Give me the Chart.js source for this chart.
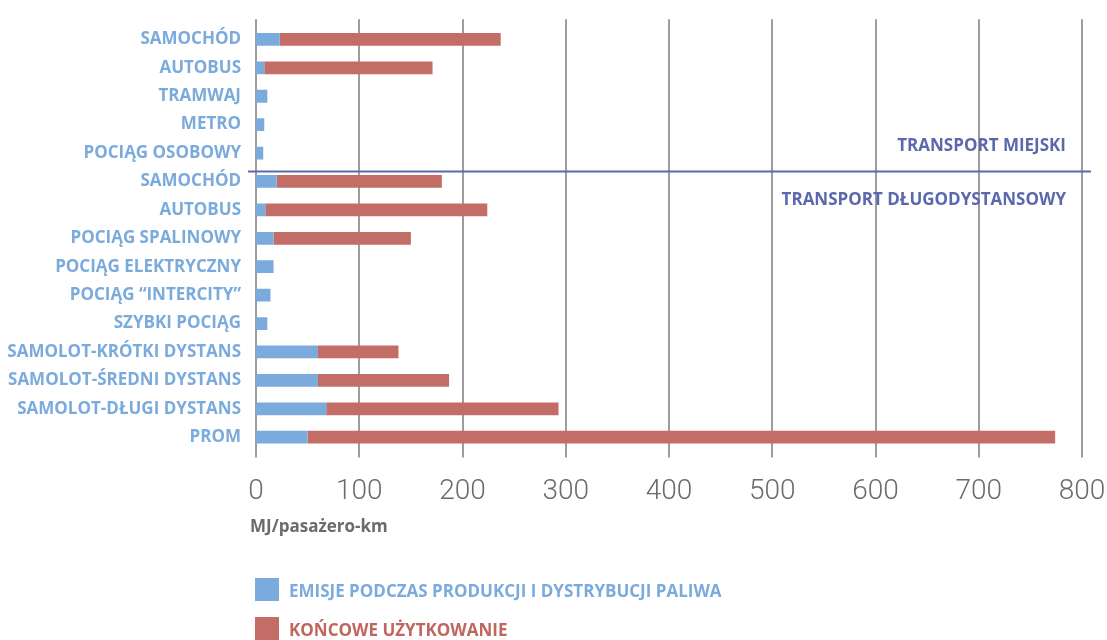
<!DOCTYPE html>
<html>
<head>
<meta charset="utf-8">
<script src="https://cdn.jsdelivr.net/npm/chart.js@4"></script>
<style>
  html, body { margin: 0; padding: 0; background: #fff; }
  #wrap { width: 1107px; height: 640px; }
</style>
</head>
<body>
<div id="wrap"><canvas id="energyChart" width="1107" height="640"></canvas></div>
<script>
// MJ per passenger-km, stacked: fuel production/distribution + end use
const categories = [
  'SAMOCHÓD', 'AUTOBUS', 'TRAMWAJ', 'METRO', 'POCIĄG OSOBOWY',
  'SAMOCHÓD', 'AUTOBUS', 'POCIĄG SPALINOWY', 'POCIĄG ELEKTRYCZNY', 'POCIĄG “INTERCITY”',
  'SZYBKI POCIĄG', 'SAMOLOT-KRÓTKI DYSTANS', 'SAMOLOT-ŚREDNI DYSTANS', 'SAMOLOT-DŁUGI DYSTANS', 'PROM'
];
const fuelSupply = [23, 8, 11, 8, 7, 20, 9, 17, 17, 14, 11, 60, 60, 68, 50];
const endUse = [214, 163, 0, 0, 0, 160, 215, 133, 0, 0, 0, 78, 127, 225, 724];
const xTicks = [0, 100, 200, 300, 400, 500, 600, 700, 800];
const seriesNames = ['EMISJE PODCZAS PRODUKCJI I DYSTRYBUCJI PALIWA', 'KOŃCOWE UŻYTKOWANIE'];
const groupNames = ['TRANSPORT MIEJSKI', 'TRANSPORT DŁUGODYSTANSOWY'];
const axisTitle = 'MJ/pasażero-km';

const BLUE = '#7BAADC';
const RED = '#C26E66';
const NAVY = '#5B68AB';
const GRID = '#9D9DA0';

const extras = {
  id: 'extras',
  beforeDatasetsDraw(chart) {
    const { ctx, chartArea, scales } = chart;
    ctx.save();
    ctx.strokeStyle = GRID;
    ctx.lineWidth = 2;
    xTicks.forEach(v => {
      const x = Math.round(scales.x.getPixelForValue(v));
      ctx.beginPath();
      ctx.moveTo(x, chartArea.top - 6);
      ctx.lineTo(x, chartArea.bottom + 6);
      ctx.stroke();
    });
    ctx.restore();
  },
  afterDatasetsDraw(chart) {
    const { ctx, chartArea, scales } = chart;
    ctx.save();
    // divider between urban and long-distance groups
    const yDiv = scales.y.getPixelForValue(4.65);
    ctx.strokeStyle = NAVY;
    ctx.lineWidth = 2;
    ctx.beginPath();
    ctx.moveTo(chartArea.left - 8, yDiv);
    ctx.lineTo(chartArea.right + 9, yDiv);
    ctx.stroke();

    ctx.font = 'bold 17px "Open Sans"';
    ctx.fillStyle = NAVY;
    ctx.textAlign = 'right';
    ctx.textBaseline = 'middle';
    ctx.fillText(groupNames[0], chartArea.right - 16, yDiv - 25);
    ctx.fillText(groupNames[1], chartArea.right - 16, yDiv + 29);

    // axis title
    ctx.textAlign = 'left';
    ctx.font = 'bold 17px "Open Sans"';
    ctx.fillStyle = '#6B6B6B';
    ctx.fillText(axisTitle, chartArea.left - 6, 527);

    // legend, one row per series
    const colors = [BLUE, RED];
    const rows = [578, 617];
    ctx.font = 'bold 17px "Open Sans"';
    seriesNames.forEach((name, i) => {
      ctx.fillStyle = colors[i];
      ctx.fillRect(chartArea.left - 1, rows[i], 24, 23);
      ctx.fillStyle = i === 0 ? BLUE : '#C0665E';
      ctx.fillText(name, chartArea.left + 33, rows[i] + 14);
    });
    ctx.restore();
  }
};

const ctx = document.getElementById('energyChart').getContext('2d');
new Chart(ctx, {
  type: 'bar',
  data: {
    labels: categories,
    datasets: [
      { label: seriesNames[0], data: fuelSupply, backgroundColor: BLUE },
      { label: seriesNames[1], data: endUse, backgroundColor: RED }
    ]
  },
  options: {
    indexAxis: 'y',
    responsive: false,
    animation: false,
    layout: { padding: { top: 20.6, right: 25, bottom: 128.6, left: 0 } },
    datasets: { bar: { categoryPercentage: 1, barPercentage: 0.45 } },
    plugins: {
      legend: { display: false },
      tooltip: { enabled: false }
    },
    scales: {
      x: {
        stacked: true,
        min: 0,
        max: 800,
        afterFit(scale) {
          scale.height = 60;
          scale.paddingLeft = 0;
          scale.paddingRight = 0;
        },
        afterBuildTicks(scale) { scale.ticks = xTicks.map(v => ({ value: v })); },
        grid: { display: false, drawTicks: false },
        border: { display: false },
        ticks: {
          padding: 24,
          color: '#6B6B6B',
          font: { family: 'Roboto', size: 28, weight: '300' }
        }
      },
      y: {
        stacked: true,
        afterFit(scale) { scale.width = 256; },
        grid: { display: false, drawTicks: false },
        border: { display: false },
        ticks: {
          padding: 15,
          color: BLUE,
          autoSkip: false,
          font: { family: 'Open Sans', size: 17, weight: 'bold' }
        }
      }
    }
  },
  plugins: [extras]
});
</script>
</body>
</html>
